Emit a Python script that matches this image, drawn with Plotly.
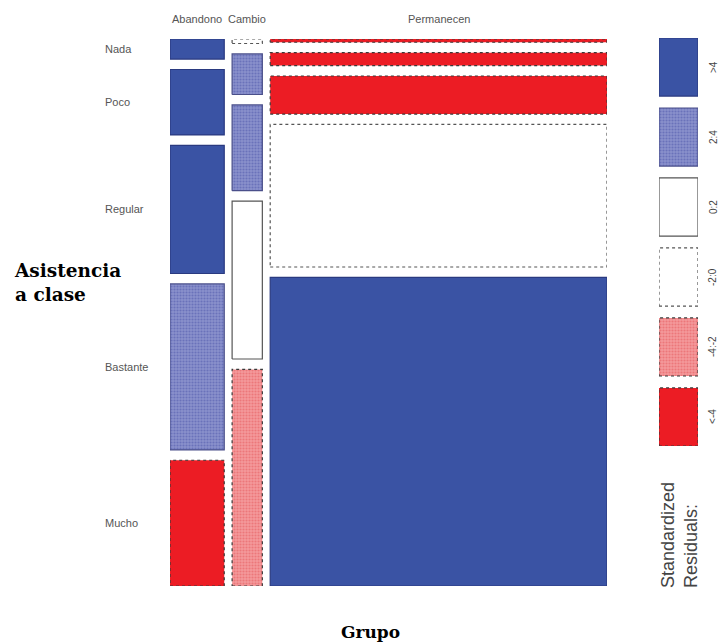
import plotly.graph_objects as go

# ---------------- data ----------------
grupos = ["Abandono", "Cambio", "Permanecen"]
asistencia = ["Nada", "Poco", "Regular", "Bastante", "Mucho"]
conteo_abandono = [8, 26, 51, 66, 50]
conteo_cambio = [1, 9, 19, 35, 48]
conteo_permanecen = [8, 32, 94, 352, 762]
# residual class of each cell, read from the shading
clase_abandono = [">4", ">4", ">4", "2:4", "<-4"]
clase_cambio = ["-2:0", "2:4", "2:4", "0:2", "-4:-2"]
clase_permanecen = ["<-4", "<-4", "<-4", "-2:0", ">4"]
legend_labels = [">4", "2:4", "0:2", "-2:0", "-4:-2", "<-4"]

conteos = [conteo_abandono, conteo_cambio, conteo_permanecen]
clases = [clase_abandono, clase_cambio, clase_permanecen]

# ---------------- styles ----------------
W, H = 722, 643
GAP_X = 0.018
GAP_Y = 0.019
BORDER = "#3a3a3a"
STYLE = {
    ">4":    dict(fill="#3A53A4", pat=None, dash="solid", line="#2a3a80"),
    "2:4":   dict(fill="#7E85C5", pat=("#8A91CC", "#6A72BA"), dash="solid", line="#4a4f8a"),
    "0:2":   dict(fill="#FFFFFF", pat=None, dash="solid", line="#555555"),
    "-2:0":  dict(fill="#FFFFFF", pat=None, dash="3px,3px", line="#555555"),
    "-4:-2": dict(fill="#F28A8C", pat=("#F49A9B", "#EC777A"), dash="3px,3px", line=BORDER),
    "<-4":   dict(fill="#EC1C24", pat=None, dash="3px,3px", line=BORDER),
}

fig = go.Figure()


def add_box(x0, x1, y0, y1, cls, xa="x", ya="y"):
    st = STYLE[cls]
    kw = dict(
        x=[x0, x1, x1, x0, x0], y=[y0, y0, y1, y1, y0],
        mode="lines", fill="toself", fillcolor=st["fill"],
        line=dict(color=st["line"], width=1.2, dash=st["dash"]),
        hoverinfo="skip", showlegend=False, xaxis=xa, yaxis=ya,
    )
    if st["pat"]:
        kw["fillpattern"] = dict(shape=".", bgcolor=st["pat"][0], fgcolor=st["pat"][1],
                                 size=3, solidity=0.4, fillmode="replace")
    fig.add_trace(go.Scatter(**kw))


# ---------------- mosaic ----------------
totales = [sum(c) for c in conteos]
N = sum(totales)
avail_x = 1 - GAP_X * (len(grupos) - 1)
avail_y = 1 - GAP_Y * (len(asistencia) - 1)

x = 0.0
centros_col = []
centros_fila = []
for j, (cnt, cls) in enumerate(zip(conteos, clases)):
    w = avail_x * totales[j] / N
    centros_col.append(x + w / 2)
    y = 1.0
    for i, n in enumerate(cnt):
        h = avail_y * n / totales[j]
        add_box(x, x + w, y - h, y, cls[i])
        if j == 0:
            centros_fila.append(y - h / 2)
        y -= h + GAP_Y
    x += w + GAP_X

# ---------------- legend (residual classes) ----------------
for k, lab in enumerate(legend_labels):
    add_box(0, 1, -k - 0.83, -k, lab, xa="x2", ya="y2")

SANS = "Liberation Sans, Arial"
annotations = []
for g, cx in zip(grupos, centros_col):
    annotations.append(dict(x=cx, y=1 - 19 / H, xref="x", yref="paper", text=g,
                            showarrow=False, font=dict(family=SANS, size=11, color="#555"),
                            xanchor="center", yanchor="middle"))
for a, cy in zip(asistencia, centros_fila):
    annotations.append(dict(x=103 / W, y=cy, xref="paper", yref="y", text=a,
                            showarrow=False, font=dict(family=SANS, size=11, color="#555"),
                            xanchor="left", yanchor="middle"))
for k, lab in enumerate(legend_labels):
    annotations.append(dict(x=713 / W, y=-k - 0.415, xref="paper", yref="y2", text=lab,
                            textangle=-90, showarrow=False,
                            font=dict(family=SANS, size=10, color="#444"),
                            xanchor="center", yanchor="middle"))
annotations.append(dict(x=679 / W, y=1 - 535 / H, xref="paper", yref="paper",
                        text="Standardized<br>Residuals:", textangle=-90, align="left",
                        showarrow=False, font=dict(family=SANS, size=18, color="#444"),
                        xanchor="center", yanchor="middle"))
annotations.append(dict(x=12 / W, y=1 - 282 / H, xref="paper", yref="paper",
                        text="<b>Asistencia<br>a clase</b>", align="left", showarrow=False,
                        font=dict(family="DejaVu Serif", size=18.5, color="#000"),
                        xanchor="left", yanchor="middle"))
annotations.append(dict(x=370 / W, y=1 - 632 / H, xref="paper", yref="paper",
                        text="<b>Grupo</b>", showarrow=False,
                        font=dict(family="DejaVu Serif", size=17, color="#000"),
                        xanchor="center", yanchor="middle"))

ax_hidden = dict(visible=False, showgrid=False, zeroline=False, fixedrange=True)
fig.update_layout(
    width=W, height=H, margin=dict(l=0, r=0, t=0, b=0),
    paper_bgcolor="white", plot_bgcolor="white",
    xaxis=dict(domain=[170 / W, 607 / W], range=[0, 1], **ax_hidden),
    yaxis=dict(domain=[1 - 586 / H, 1 - 39 / H], range=[0, 1], **ax_hidden),
    xaxis2=dict(domain=[659 / W, 698 / W], range=[0, 1], anchor="y2", **ax_hidden),
    yaxis2=dict(domain=[1 - 446 / H, 1 - 38 / H], range=[-5.83, 0], anchor="x2", **ax_hidden),
    annotations=annotations,
    showlegend=False,
)

fig.write_html(
    "out.html",
    config={"displayModeBar": False},
    post_script="document.body.style.margin='0';document.body.style.padding='0';"
                "document.body.style.overflow='hidden';",
)
